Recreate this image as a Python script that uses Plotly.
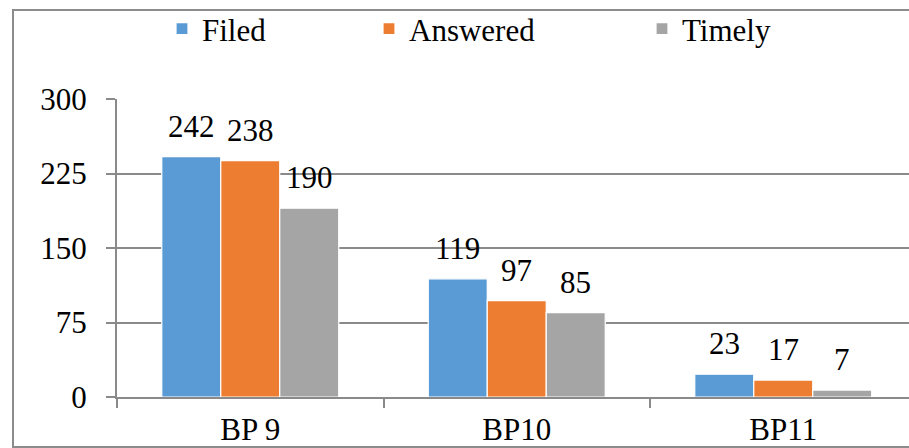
import plotly.graph_objects as go

categories = ["BP 9", "BP10", "BP11"]
series_names = ["Filed", "Answered", "Timely"]
filed = [242, 119, 23]
answered = [238, 97, 17]
timely = [190, 85, 7]
y_ticks = [0, 75, 150, 225, 300]

series_values = [filed, answered, timely]
colors = ["#5B9BD5", "#ED7D31", "#A5A5A5"]

W, H = 909, 448
L, R, T, B = 117, 0, 99, 51
FONT = "Liberation Serif"
FS = 31
AXIS_GRAY = "#8A8A8A"
BARGAP = 0.336

fig = go.Figure()
legend_ids = ["legend", "legend2", "legend3"]
for name, vals, col, lg in zip(series_names, series_values, colors, legend_ids):
    fig.add_trace(go.Bar(
        x=categories, y=vals, name=name, legend=lg,
        marker=dict(color=col, line=dict(color="white", width=1.2)),
    ))

# value labels above each bar, positioned on the category axis
bar_w = (1 - BARGAP) / len(series_names)
annotations = []
for i, vals in enumerate(series_values):
    for j, v in enumerate(vals):
        annotations.append(dict(
            x=j + (i - 1) * bar_w, y=v, xref="x", yref="y",
            text=str(v), showarrow=False, yanchor="bottom", yshift=11,
            font=dict(family=FONT, size=FS, color="black"),
        ))

pw = W - L - R
ph = H - T - B
def px_x(p):
    return (p - L) / pw
def px_y(p):
    return (H - B - p) / ph

legend_common = dict(
    orientation="h", yanchor="middle", y=px_y(29), xanchor="left",
    bgcolor="rgba(0,0,0,0)", font=dict(family=FONT, size=FS, color="black"),
    itemwidth=30,
)
legend_left = [162, 369, 642]

fig.update_layout(
    width=W, height=H,
    margin=dict(l=L, r=R, t=T, b=B, pad=0, autoexpand=False),
    paper_bgcolor="white", plot_bgcolor="white",
    font=dict(family=FONT, size=FS, color="black"),
    barmode="group", bargap=BARGAP, bargroupgap=0,
    showlegend=True,
    legend=dict(x=px_x(legend_left[0]), **legend_common),
    legend2=dict(x=px_x(legend_left[1]), **legend_common),
    legend3=dict(x=px_x(legend_left[2]), **legend_common),
    annotations=annotations,
    xaxis=dict(
        type="category", range=[-0.5, -0.5 + pw / 266.5], automargin=False,
        showline=True, linecolor=AXIS_GRAY, linewidth=2,
        ticks="outside", tickson="boundaries", ticklen=9, tickwidth=2,
        tickcolor=AXIS_GRAY, showgrid=False,
        tickfont=dict(family=FONT, size=FS, color="black"),
        ticklabelstandoff=4,
    ),
    yaxis=dict(
        range=[0, 300], tickvals=y_ticks, ticktext=[str(t) for t in y_ticks],
        automargin=False,
        showline=True, linecolor=AXIS_GRAY, linewidth=2,
        ticks="outside", ticklen=9, tickwidth=2, tickcolor=AXIS_GRAY,
        showgrid=True, gridcolor=AXIS_GRAY, gridwidth=1.5, zeroline=False,
        tickfont=dict(family=FONT, size=FS, color="black"),
        ticklabelstandoff=13,
    ),
    shapes=[dict(
        type="rect", xref="paper", yref="paper",
        x0=px_x(13), x1=px_x(W + 10), y0=px_y(447), y1=px_y(10),
        line=dict(color="#8C8C8C", width=2), fillcolor="rgba(0,0,0,0)",
        layer="below",
    )],
)

fig.write_html("out.html")
